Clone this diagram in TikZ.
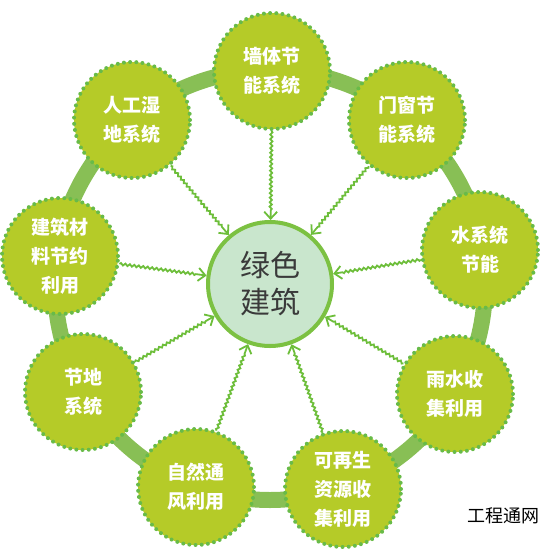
\documentclass[tikz,border=0pt]{standalone}
\usepackage{fontspec}
\newfontfamily\cjk{Noto Sans CJK SC}
\usetikzlibrary{arrows.meta,decorations.pathmorphing}
\definecolor{ringgreen}{HTML}{88BF55}
\definecolor{ballfill}{HTML}{B5CB28}
\definecolor{dotgreen}{HTML}{68BB48}
\definecolor{hubfill}{HTML}{C9E6CD}
\definecolor{hubline}{HTML}{7CC142}
\definecolor{vinegreen}{HTML}{6DBE3A}
\definecolor{hubtext}{HTML}{3A3A3A}

\begin{document}
\begin{tikzpicture}[
  x=1pt, y=-1pt,
  outer_ball/.style={circle, minimum size=116pt, inner sep=0pt, fill=ballfill, draw=dotgreen,
    line width=4pt, dash pattern=on 0pt off 6.2pt, line cap=round, align=center,
    text=white, font=\cjk\bfseries\fontsize{19}{29}\selectfont},
  hub/.style={circle, minimum size=124pt, inner sep=0pt, fill=hubfill, draw=hubline,
    line width=4pt, align=center, text=hubtext, font=\cjk\fontsize{30}{37}\selectfont},
  vine/.style={draw=vinegreen, line width=1.8pt,
    decorate, decoration={snake, amplitude=1.1pt, segment length=4.5pt, post length=9pt},
    -{Straight Barb[length=7pt, width=13pt]}},
]
\useasboundingbox (0,0) rectangle (550,550);
% ring behind the balls
\draw[ringgreen, line width=16pt] (270,285) circle[radius=215pt];
\draw (270,284) node (lvse) [hub] {绿色\\建筑};
\draw (272,71) node (wall) [outer_ball] {墙体节\\能系统};
\draw (407,120) node (window) [outer_ball] {门窗节\\能系统};
\draw (480,250) node (water) [outer_ball] {水系统\\节能};
\draw (455,394) node (rain) [outer_ball] {雨水收\\集利用};
\draw (343,489) node (renew) [outer_ball] {可再生\\资源收\\集利用};
\draw (196,487) node (wind) [outer_ball] {自然通\\风利用};
\draw (83,392) node (land) [outer_ball] {节地\\系统};
\draw (60,256) node (material) [outer_ball] {建筑材\\料节约\\利用};
\draw (132,120) node (wetland) [outer_ball] {人工湿\\地系统};
% vines into the hub
\draw[vine] (wall) -- (lvse);
\draw[vine] (window) -- (lvse);
\draw[vine] (water) -- (lvse);
\draw[vine] (rain) -- (lvse);
\draw[vine] (renew) -- (lvse);
\draw[vine] (wind) -- (lvse);
\draw[vine] (land) -- (lvse);
\draw[vine] (material) -- (lvse);
\draw[vine] (wetland) -- (lvse);
\draw (503,516) node (mark) [font=\cjk\fontsize{18}{20}\selectfont] {工程通网};
\end{tikzpicture}
\end{document}
